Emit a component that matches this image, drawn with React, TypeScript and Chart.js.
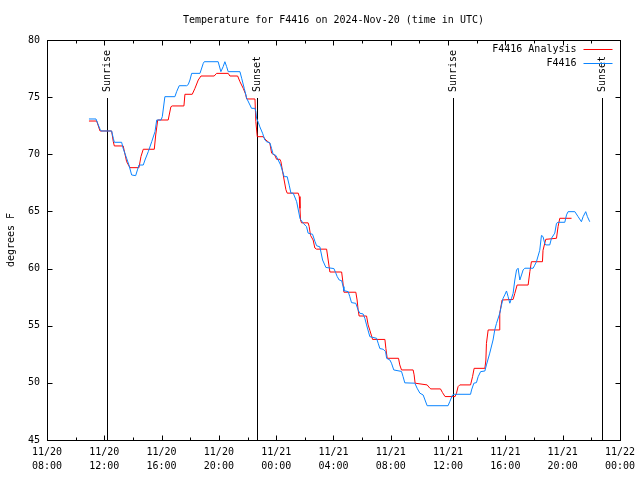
import React, { useEffect, useRef } from 'react';
import { Chart, registerables } from 'chart.js';

Chart.register(...registerables);

const FONT = '"DejaVu Sans Mono", "Liberation Mono", monospace';

const titleText = 'Temperature for F4416 on 2024-Nov-20 (time in UTC)';
const yAxisTitle = 'degrees F';
const seriesNames = ['F4416 Analysis', 'F4416'];
const seriesColors = ['#ff0000', '#0a84ff'];

// x axis: hours after 2024-11-20 08:00 UTC
const xMin = 0;
const xMax = 40;
const xStep = 4;
const xTickDates = ['11/20', '11/20', '11/20', '11/20', '11/21', '11/21', '11/21', '11/21', '11/21', '11/21', '11/22'];
const xTickTimes = ['08:00', '12:00', '16:00', '20:00', '00:00', '04:00', '08:00', '12:00', '16:00', '20:00', '00:00'];
const yMin = 45;
const yMax = 80;
const yStep = 5;

const sunHours = [4.21, 14.68, 28.35, 38.75];
const sunLabels = ['Sunrise', 'Sunset', 'Sunrise', 'Sunset'];
const sunLineTopTemp = 74.9;

const analysisHours = [
  2.93, 3.47, 3.70, 4.51, 4.63, 4.70, 5.32, 5.56, 5.79, 6.42, 6.56, 6.72, 7.49, 7.59, 7.73, 8.46, 8.65, 8.74,
  9.56, 9.63, 10.14, 10.33, 10.56, 10.75, 11.67, 11.84, 12.65, 12.77, 13.31, 13.47, 13.70, 13.87, 13.94, 14.52,
  14.58, 14.68, 15.09, 15.28, 15.56, 15.68, 15.91, 16.03, 16.26, 16.33, 16.49, 16.68, 16.77, 17.54, 17.61, 17.66,
  17.70, 17.77, 18.23, 18.30, 18.40, 18.58, 18.70, 18.82, 19.52, 19.63, 19.75, 20.57, 20.64, 20.73, 21.56, 21.65,
  21.72, 21.79, 22.31, 22.42, 22.54, 22.73, 23.59, 23.66, 23.75, 24.54, 24.63, 24.75, 25.56, 25.63, 25.70, 26.54,
  26.73, 26.80, 27.47, 27.61, 27.79, 28.49, 28.59, 28.70, 28.82, 29.57, 29.71, 29.82, 30.57, 30.64, 30.68, 30.80,
  31.56, 31.61, 31.77, 32.54, 32.66, 32.82, 33.59, 33.71, 33.82, 34.59, 34.63, 34.82, 35.57, 35.68, 35.80, 36.62,
];
const analysisTemps = [
  72.91, 72.91, 72.04, 72.04, 71.1, 70.73, 70.73, 69.35, 68.83, 68.83, 69.8, 70.44, 70.44, 71.69, 73.0, 73.0, 74.16, 74.23,
  74.23, 75.25, 75.25, 75.77, 76.5, 76.85, 76.85, 77.08, 77.08, 76.85, 76.85, 76.35, 75.77, 75.25, 74.84, 74.84,
  72.85, 71.54, 71.54, 71.25, 70.96, 70.1, 69.9, 69.56, 69.56, 69.35, 68.2, 66.9, 66.6, 66.6, 66.3, 65.27,
  64.25, 64.0, 64.0, 63.7, 62.9, 62.5, 61.8, 61.7, 61.7, 60.75, 59.7, 59.7, 59.0, 57.93, 57.93, 57.25,
  56.4, 55.85, 55.85, 55.07, 54.6, 53.8, 53.8, 53.0, 52.15, 52.15, 51.57, 51.13, 51.13, 50.7, 49.97, 49.82,
  49.53, 49.47, 49.47, 49.15, 48.8, 48.8, 49.1, 49.67, 49.82, 49.82, 50.54, 51.27, 51.27, 52.0, 53.46, 54.63,
  54.63, 56.09, 57.25, 57.3, 57.83, 58.56, 58.56, 59.73, 60.6, 60.6, 61.6, 62.56, 62.65, 63.67, 64.4, 64.4,
];

const obsHours = [
  2.93, 3.42, 3.54, 3.70, 3.77, 4.51, 4.63, 4.70, 5.21, 5.32, 5.56, 5.72, 5.91, 6.19, 6.33, 6.42, 6.72, 6.84,
  7.07, 7.31, 7.54, 7.66, 7.96, 8.05, 8.23, 8.93, 9.05, 9.23, 9.75, 9.86, 9.98, 10.10, 10.68, 10.91, 10.98,
  11.95, 12.14, 12.30, 12.42, 12.54, 12.65, 13.47, 13.59, 13.77, 13.94, 14.17, 14.28, 14.52, 14.58, 14.63,
  14.75, 14.86, 15.05, 15.21, 15.33, 15.56, 15.68, 15.79, 15.98, 16.14, 16.31, 16.45, 16.56, 16.77, 16.91,
  17.03, 17.19, 17.43, 17.66, 17.70, 17.89, 18.12, 18.23, 18.54, 18.70, 18.82, 19.05, 19.24, 19.47, 20.03,
  20.15, 20.26, 20.40, 20.57, 20.68, 20.73, 21.03, 21.14, 21.26, 21.56, 21.72, 21.84, 22.07, 22.19, 22.31,
  22.54, 23.01, 23.12, 23.24, 23.47, 23.64, 23.71, 23.94, 24.05, 24.21, 24.75, 24.86, 24.98, 25.68, 25.84,
  26.03, 26.26, 26.54, 28.00, 28.12, 28.31, 28.47, 29.57, 29.64, 29.80, 29.98, 30.10, 30.27, 30.57, 30.68,
  30.91, 31.14, 31.26, 31.38, 31.61, 31.73, 31.84, 31.96, 32.08, 32.19, 32.31, 32.43, 32.54, 32.66, 32.78,
  32.89, 33.01, 33.13, 33.24, 33.36, 33.94, 34.05, 34.17, 34.40, 34.52, 34.63, 34.75, 34.82, 35.10, 35.22,
  35.45, 35.57, 35.68, 36.15, 36.27, 36.38, 36.85, 37.08, 37.31, 37.43, 37.61, 37.73, 37.89,
];
const obsTemps = [
  73.09, 73.09, 72.7, 72.2, 72.04, 72.04, 71.4, 71.05, 71.05, 70.5, 69.65, 69.06, 68.19, 68.13, 68.7, 69.06, 69.06, 69.5,
  70.23, 71.1, 71.98, 73.0, 73.0, 73.29, 75.04, 75.04, 75.48, 76.0, 76.0, 76.1, 76.5, 77.08, 77.08, 77.96, 78.1,
  78.1, 77.23, 77.67, 78.1, 77.67, 77.23, 77.23, 76.65, 75.77, 74.9, 74.31, 74.02, 74.02, 73.73, 73.15,
  72.8, 72.4, 71.84, 71.25, 71.1, 71.0, 70.5, 70.0, 69.9, 69.5, 69.06, 68.5, 68.04, 68.04, 67.3,
  66.6, 66.6, 65.85, 64.4, 64.3, 63.96, 63.67, 63.1, 63.0, 62.4, 62.0, 61.9, 60.75, 60.1, 60.0,
  59.65, 59.3, 59.0, 58.94, 58.42, 58.07, 57.98, 57.54, 57.02, 56.96, 56.38, 56.09, 56.03, 55.65, 55.07,
  54.04, 53.9, 53.47, 53.0, 52.94, 52.73, 52.15, 52.0, 51.72, 51.13, 51.0, 50.54, 50.0, 49.97, 49.53,
  49.1, 48.94, 48.0, 48.0, 48.36, 48.94, 49.0, 49.0, 49.38, 49.97, 50.02, 50.54, 50.98, 51.04, 51.57,
  52.6, 53.75, 54.63, 55.2, 56.09, 56.8, 57.4, 57.7, 58.04, 57.55, 56.97, 57.4, 57.83, 59.0, 59.88,
  60.03, 59.0, 59.44, 59.88, 60.03, 60.03, 60.3, 60.6, 61.6, 62.9, 62.8, 62.2, 62.07, 62.07, 62.65,
  63.1, 63.96, 64.05, 64.05, 64.7, 64.98, 64.98, 64.54, 64.1, 64.54, 64.98, 64.54, 64.1,
];

const MAJOR_TICK = 5;
const MINOR_TICK = 3;

const sunPlugin = {
  id: 'sunLines',
  beforeDatasetsDraw(chart: any) {
    const { ctx, chartArea: a, scales } = chart;
    const x = scales.x;
    const y = scales.y;
    ctx.save();
    ctx.strokeStyle = '#000';
    ctx.fillStyle = '#000';
    ctx.lineWidth = 1;
    ctx.font = `10px ${FONT}`;
    sunHours.forEach((h, i) => {
      const px = Math.round(x.getPixelForValue(h)) + 0.5;
      const top = Math.round(y.getPixelForValue(sunLineTopTemp));
      ctx.beginPath();
      ctx.moveTo(px, top);
      ctx.lineTo(px, a.bottom);
      ctx.stroke();
      ctx.save();
      ctx.translate(px, top - 6);
      ctx.rotate(-Math.PI / 2);
      ctx.textAlign = 'left';
      ctx.textBaseline = 'middle';
      ctx.fillText(sunLabels[i], 0, 0);
      ctx.restore();
    });
    ctx.restore();
  },
};

const framePlugin = {
  id: 'frame',
  afterDraw(chart: any) {
    const { ctx, chartArea: a, scales } = chart;
    const x = scales.x;
    const y = scales.y;
    const L = Math.round(a.left) + 0.5;
    const R = Math.round(a.right) + 0.5;
    const T = Math.round(a.top) + 0.5;
    const B = Math.round(a.bottom) + 0.5;
    ctx.save();
    ctx.strokeStyle = '#000';
    ctx.lineWidth = 1;
    ctx.strokeRect(L, T, R - L, B - T);
    ctx.beginPath();
    x.ticks.forEach((t: any) => {
      const px = Math.round(x.getPixelForValue(t.value)) + 0.5;
      ctx.moveTo(px, B); ctx.lineTo(px, B - MAJOR_TICK);
      ctx.moveTo(px, T); ctx.lineTo(px, T + MAJOR_TICK);
      const mv = t.value + xStep / 2;
      if (mv < xMax) {
        const mp = Math.round(x.getPixelForValue(mv)) + 0.5;
        ctx.moveTo(mp, B); ctx.lineTo(mp, B - MINOR_TICK);
        ctx.moveTo(mp, T); ctx.lineTo(mp, T + MINOR_TICK);
      }
    });
    y.ticks.forEach((t: any) => {
      const py = Math.round(y.getPixelForValue(t.value)) + 0.5;
      ctx.moveTo(L, py); ctx.lineTo(L + MAJOR_TICK, py);
      ctx.moveTo(R, py); ctx.lineTo(R - MAJOR_TICK, py);
    });
    ctx.stroke();

    ctx.fillStyle = '#000';
    ctx.font = `10px ${FONT}`;
    // title
    ctx.textAlign = 'center';
    ctx.textBaseline = 'middle';
    ctx.fillText(titleText, (a.left + a.right) / 2, 20);
    // y title
    ctx.save();
    ctx.translate(11, (a.top + a.bottom) / 2);
    ctx.rotate(-Math.PI / 2);
    ctx.fillText(yAxisTitle, 0, 0);
    ctx.restore();
    // legend
    ctx.textAlign = 'right';
    const rows = [49, 63];
    seriesNames.forEach((name, i) => {
      const ry = rows[i];
      ctx.fillStyle = '#000';
      ctx.fillText(name, R - 44, ry);
      ctx.strokeStyle = seriesColors[i];
      ctx.beginPath();
      ctx.moveTo(R - 37, ry + 0.5);
      ctx.lineTo(R - 8, ry + 0.5);
      ctx.stroke();
    });
    ctx.restore();
  },
};

export default function App() {
  const canvasRef = useRef<HTMLCanvasElement | null>(null);

  useEffect(() => {
    document.body.style.margin = '0';
    const canvas = canvasRef.current;
    if (!canvas) return;
    const analysisData = analysisHours.map((h, i) => ({ x: h, y: analysisTemps[i] }));
    const obsData = obsHours.map((h, i) => ({ x: h, y: obsTemps[i] }));
    const chart = new Chart(canvas, {
      type: 'line',
      data: {
        datasets: [
          {
            label: seriesNames[0],
            data: analysisData,
            borderColor: seriesColors[0],
            borderWidth: 1,
            pointRadius: 0,
            fill: false,
            tension: 0,
            order: 1,
          },
          {
            label: seriesNames[1],
            data: obsData,
            borderColor: seriesColors[1],
            borderWidth: 1,
            pointRadius: 0,
            fill: false,
            tension: 0,
            order: 0,
          },
        ],
      },
      options: {
        animation: false,
        responsive: false,
        devicePixelRatio: 1,
        events: [],
        layout: { padding: { top: 40, right: 20, left: 0, bottom: 0 } },
        plugins: {
          legend: { display: false },
          title: { display: false },
          tooltip: { enabled: false },
        },
        scales: {
          x: {
            type: 'linear',
            min: xMin,
            max: xMax,
            grid: { display: false, drawTicks: false },
            border: { display: false },
            ticks: {
              stepSize: xStep,
              padding: 5,
              color: '#000',
              maxRotation: 0,
              autoSkip: false,
              font: { family: FONT, size: 10, lineHeight: 1.4 },
              callback: (_v: any, i: number) => [xTickDates[i], xTickTimes[i]],
            },
            afterFit: (s: any) => { s.height = 40; },
          },
          y: {
            type: 'linear',
            min: yMin,
            max: yMax,
            grid: { display: false, drawTicks: false },
            border: { display: false },
            ticks: {
              stepSize: yStep,
              padding: 7,
              color: '#000',
              font: { family: FONT, size: 10 },
            },
            afterFit: (s: any) => { s.width = 47; },
          },
        },
      },
      plugins: [sunPlugin, framePlugin],
    });
    return () => chart.destroy();
  }, []);

  return (
    <div style={{ position: 'absolute', left: 0, top: 0, width: 640, height: 480, background: '#fff' }}>
      <canvas ref={canvasRef} width={640} height={480} />
    </div>
  );
}
